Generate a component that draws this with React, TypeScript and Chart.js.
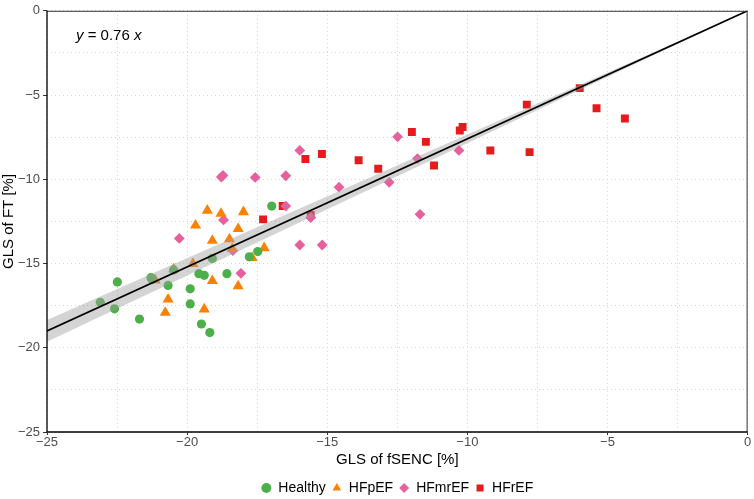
import React, { useEffect, useRef } from 'react';
import { Chart, registerables } from 'chart.js';

Chart.register(...registerables);

// ---- data ----
const healthyX = [-23.1, -22.49, -22.59, -21.7, -21.29, -21.25, -20.68, -20.48, -19.89, -19.89, -19.58, -19.39, -19.49, -19.19, -19.1, -18.58, -17.78, -17.48, -16.98];
const healthyY = [-17.3, -16.09, -17.69, -18.3, -15.84, -15.95, -16.3, -15.38, -16.5, -17.4, -15.6, -15.7, -18.59, -19.1, -14.7, -15.6, -14.6, -14.29, -11.59];

const hfpefX = [-19.28, -18.79, -17.99, -19.7, -18.18, -19.1, -18.49, -18.39, -17.25, -17.68, -19.79, -20.48, -21.14, -19.1, -18.18, -20.68, -20.78, -19.39];
const hfpefY = [-11.85, -12.04, -11.94, -12.73, -12.94, -13.64, -13.55, -14.13, -14.08, -14.66, -15.01, -15.34, -15.99, -16.03, -16.34, -17.13, -17.91, -17.71];

const hfmrefX = [-20.28, -18.7, -18.37, -18.08, -16.48, -15.98, -15.59, -15.18, -14.58, -18.72, -18.78, -17.57, -16.48, -15.98, -12.79, -12.49, -11.78, -10.3, -11.69];
const hfmrefY = [-13.51, -12.41, -14.23, -15.58, -11.59, -13.9, -12.28, -13.9, -10.47, -9.77, -9.87, -9.89, -9.79, -8.29, -10.18, -7.48, -8.77, -8.29, -12.08];

const hfrefX = [-17.29, -16.59, -15.59, -15.78, -15.19, -13.88, -13.18, -11.98, -11.48, -10.27, -10.17, -11.19, -9.18, -7.78, -7.88, -5.99, -5.39, -4.38];
const hfrefY = [-12.38, -11.59, -12.12, -8.8, -8.5, -8.87, -9.38, -7.19, -7.78, -7.1, -6.9, -9.18, -8.29, -8.39, -5.57, -4.59, -5.78, -6.39];

// regression line y = 0.76 x and its confidence band
const fitX = [-25, 0];
const fitY = [-19, 0];
const bandUpperY = [-18.35, 0];
const bandLowerY = [-19.65, 0];

const groupNames = ['Healthy', 'HFpEF', 'HFmrEF', 'HFrEF'];
const groupColors = ['#4daf4a', '#ff7f00', '#e7609e', '#e41a1c'];
const groupShapes = ['circle', 'triangle', 'rectRot', 'rect'];
const groupRadius = [4.6, 6.4, 5.4, 5.6];

const equationText = { italicY: 'y', middle: ' = 0.76 ', italicX: 'x' };
const xTitle = 'GLS of fSENC [%]';
const yTitle = 'GLS of FT [%]';
const axisMin = -25;
const axisMax = 0;
const gridStep = 2.5;
const labelStep = 5;

const FONT = "'Liberation Sans', Arial, sans-serif";

const zip = (xs: number[], ys: number[]) => xs.map((x, i) => ({ x, y: ys[i] }));

const tickLabel = (v: number | string) => {
  const n = Number(v);
  if (Math.abs(n / labelStep - Math.round(n / labelStep)) > 1e-6) return '';
  return n === 0 ? '0' : '\u2212' + Math.abs(n);
};
const isMajor = (v: number) => Math.abs(v / labelStep - Math.round(v / labelStep)) < 1e-6;

const framePlugin = {
  id: 'frameAndEquation',
  afterLayout(chart: any) {
    // centre the legend under the panel rather than the whole canvas
    const lg = chart.legend;
    if (lg) {
      const shift = (chart.chartArea.left + chart.chartArea.right) / 2 - (lg.left + lg.right) / 2;
      lg.left += shift;
      lg.right += shift;
    }
  },
  afterDatasetsDraw(chart: any) {
    const { ctx, chartArea: a } = chart;
    ctx.save();
    ctx.setLineDash([]);
    ctx.strokeStyle = '#333333';
    ctx.lineWidth = 1;
    ctx.beginPath();
    ctx.moveTo(a.left, a.top + 0.5);
    ctx.lineTo(a.right, a.top + 0.5);
    ctx.moveTo(a.right - 0.5, a.top);
    ctx.lineTo(a.right - 0.5, a.bottom);
    ctx.stroke();
    ctx.strokeStyle = '#000000';
    ctx.lineWidth = 1.3;
    ctx.beginPath();
    ctx.moveTo(a.left, a.top);
    ctx.lineTo(a.left, a.bottom);
    ctx.lineTo(a.right, a.bottom);
    ctx.stroke();

    // equation label
    const x0 = a.left + 29;
    const y0 = a.top + 25;
    ctx.fillStyle = '#000';
    ctx.textBaseline = 'middle';
    ctx.textAlign = 'left';
    let x = x0;
    ctx.font = `italic 15px ${FONT}`;
    ctx.fillText(equationText.italicY, x, y0);
    x += ctx.measureText(equationText.italicY).width;
    ctx.font = `15px ${FONT}`;
    ctx.fillText(equationText.middle, x, y0);
    x += ctx.measureText(equationText.middle).width;
    ctx.font = `italic 15px ${FONT}`;
    ctx.fillText(equationText.italicX, x, y0);
    ctx.restore();
  },
};

export default function App() {
  const canvasRef = useRef<HTMLCanvasElement | null>(null);

  useEffect(() => {
    document.body.style.margin = '0';
    const canvas = canvasRef.current;
    if (!canvas) return;

    const xs = [healthyX, hfpefX, hfmrefX, hfrefX];
    const ys = [healthyY, hfpefY, hfmrefY, hfrefY];

    const scatterSets = groupNames.map((name, i) => ({
      type: 'scatter' as const,
      label: name,
      data: zip(xs[i], ys[i]),
      pointStyle: groupShapes[i],
      pointRadius: groupRadius[i],
      pointBackgroundColor: groupColors[i],
      backgroundColor: groupColors[i],
      borderColor: groupColors[i],
      pointBorderWidth: 0,
      borderWidth: 0,
      order: 5,
    }));

    const gridCommon = {
      color: '#d4d4d4',
      lineWidth: 1,
      tickLength: 3,
      tickColor: (c: any) => (isMajor(c.tick?.value ?? 0) ? '#333' : 'rgba(0,0,0,0)'),
    };

    const chart = new Chart(canvas, {
      type: 'scatter',
      data: {
        datasets: [
          ...scatterSets,
          {
            type: 'line' as const,
            label: 'bandUpper',
            data: zip(fitX, bandUpperY),
            borderWidth: 0,
            borderColor: 'rgba(0,0,0,0)',
            pointRadius: 0,
            fill: false,
            order: 2,
          },
          {
            type: 'line' as const,
            label: 'bandLower',
            data: zip(fitX, bandLowerY),
            borderWidth: 0,
            borderColor: 'rgba(0,0,0,0)',
            backgroundColor: 'rgba(160,160,160,0.45)',
            pointRadius: 0,
            fill: '-1',
            order: 2,
          },
          {
            type: 'line' as const,
            label: 'fit',
            data: zip(fitX, fitY),
            borderWidth: 1.8,
            borderColor: '#000000',
            pointRadius: 0,
            fill: false,
            order: 1,
          },
        ] as any,
      },
      options: {
        animation: false,
        responsive: false,
        maintainAspectRatio: false,
        layout: { padding: { top: 6, right: 3, left: 0, bottom: -6 } },
        plugins: {
          legend: {
            position: 'bottom',
            labels: {
              usePointStyle: true,
              boxWidth: 10,
              boxHeight: 7,
              padding: 6,
              color: '#000',
              font: { family: FONT, size: 14 },
              filter: (item: any) => groupNames.includes(item.text),
              sort: (a: any, b: any) => a.datasetIndex - b.datasetIndex,
            },
          },
          tooltip: { enabled: false },
        },
        scales: {
          x: {
            type: 'linear',
            min: axisMin,
            max: axisMax,
            afterFit: (s: any) => { s.height = 43; },
            ticks: {
              stepSize: gridStep,
              autoSkip: false,
              maxRotation: 0,
              padding: 0,
              color: '#4d4d4d',
              font: { family: FONT, size: 13 },
              callback: tickLabel,
            },
            grid: gridCommon,
            border: { display: false, dash: [1, 3] },
            title: {
              display: true,
              text: xTitle,
              color: '#000',
              font: { family: FONT, size: 15 },
              padding: { top: 0, bottom: 6 },
            },
          },
          y: {
            type: 'linear',
            min: axisMin,
            max: axisMax,
            afterFit: (s: any) => { s.width = 47; },
            ticks: {
              stepSize: gridStep,
              autoSkip: false,
              padding: 3,
              color: '#4d4d4d',
              font: { family: FONT, size: 13 },
              callback: tickLabel,
            },
            grid: { ...gridCommon, tickLength: 4 },
            border: { display: false, dash: [1, 3] },
            title: {
              display: true,
              text: yTitle,
              color: '#000',
              font: { family: FONT, size: 15 },
              padding: { top: 0, bottom: 0 },
            },
          },
        },
      } as any,
      plugins: [framePlugin],
    });

    return () => chart.destroy();
  }, []);

  return (
    <div style={{ width: 754, height: 499, position: 'relative' }}>
      <canvas ref={canvasRef} width={754} height={499} style={{ width: 754, height: 499, display: 'block' }} />
    </div>
  );
}
